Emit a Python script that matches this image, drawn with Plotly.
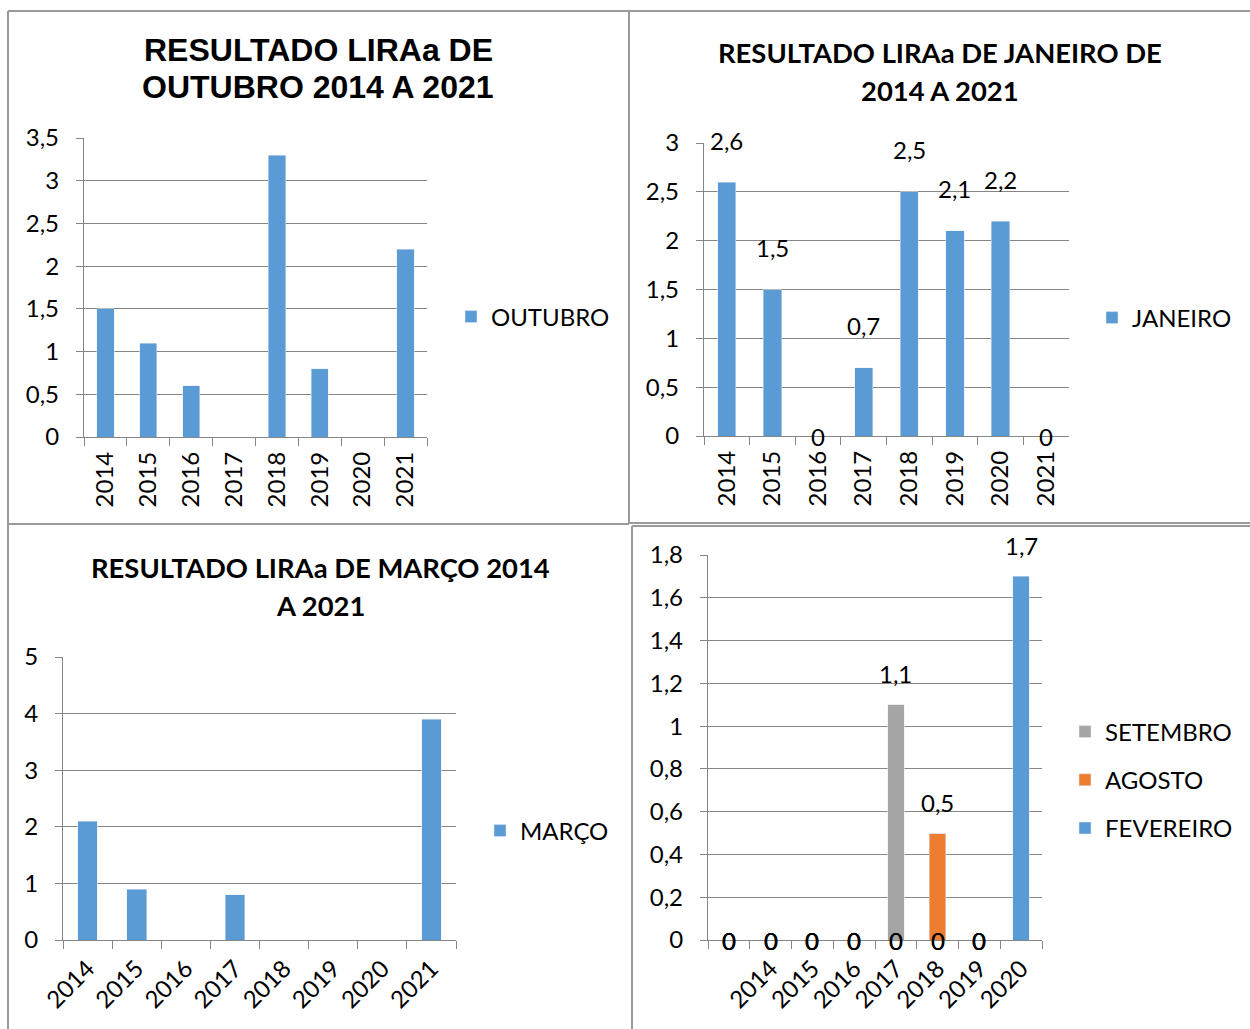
import plotly.graph_objects as go

# ---- data -------------------------------------------------------------
anos = ["2014", "2015", "2016", "2017", "2018", "2019", "2020", "2021"]
outubro = [1.5, 1.1, 0.6, None, 3.3, 0.8, None, 2.2]
janeiro = [2.6, 1.5, 0, 0.7, 2.5, 2.1, 2.2, 0]
marco = [2.1, 0.9, None, 0.8, None, None, None, 3.9]

anos_fev = [" ", "2014", "2015", "2016", "2017", "2018", "2019", "2020"]
setembro = [0, 0, 0, 0, 1.1, 0, 0, None]
agosto = [0, 0, 0, 0, 0, 0.5, 0, None]
fevereiro = [0, 0, 0, 0, 0, 0, 0, 1.7]

# ---- styling ----------------------------------------------------------
W, H = 1250, 1029
AZUL, CINZA, LARANJA = "#5B9BD5", "#A5A5A5", "#ED7D31"
GRADE = "#868686"
BORDA = "#9A9A9A"
FONTE = "Lato"
TICK_FONT = dict(family=FONTE, size=24, color="black")


def px_x(p):
    return p / W


def px_y(p):
    return 1 - p / H


fig = go.Figure()

fig.add_trace(go.Bar(x=anos, y=outubro, name="OUTUBRO", marker_color=AZUL,
                     width=0.4, xaxis="x", yaxis="y", legend="legend"))
fig.add_trace(go.Bar(x=anos, y=janeiro, name="JANEIRO", marker_color=AZUL,
                     width=0.4, xaxis="x2", yaxis="y2", legend="legend2"))
fig.add_trace(go.Bar(x=anos, y=marco, name="MARÇO", marker_color=AZUL,
                     width=0.4, xaxis="x3", yaxis="y3", legend="legend3"))
for nome, serie, cor in [("SETEMBRO", setembro, CINZA),
                         ("AGOSTO", agosto, LARANJA),
                         ("FEVEREIRO", fevereiro, AZUL)]:
    fig.add_trace(go.Bar(x=anos_fev, y=serie, name=nome, marker_color=cor,
                         width=0.4, xaxis="x4", yaxis="y4", legend="legend4",
                         legendgroup=nome))


def eixo_x(dom, ancora, angulo, n):
    return dict(domain=[px_x(dom[0]), px_x(dom[1])], anchor=ancora,
                type="category", range=[-0.5, n - 0.5], fixedrange=True,
                showgrid=False, zeroline=False, showline=True,
                linecolor=GRADE, linewidth=1.3, ticks="outside",
                tickson="boundaries", ticklen=8, tickcolor=GRADE,
                tickwidth=1.3, tickangle=angulo, tickfont=TICK_FONT,
                ticklabelstandoff=4)


def eixo_y(dom, ancora, rng, passo):
    return dict(domain=[px_y(dom[1]), px_y(dom[0])], anchor=ancora,
                range=rng, dtick=passo, tick0=0, fixedrange=True,
                showgrid=True, gridcolor=GRADE, gridwidth=1.3,
                zeroline=False, showline=True, linecolor=GRADE,
                linewidth=1.3, ticks="outside", ticklen=7,
                tickcolor=GRADE, tickwidth=1.3, tickfont=TICK_FONT,
                ticklabelstandoff=12)


fig.update_layout(
    xaxis=eixo_x((84, 427), "y", -90, len(anos)),
    yaxis=eixo_y((138, 437), "x", [0, 3.5], 0.5),
    xaxis2=eixo_x((704, 1069), "y2", -90, len(anos)),
    yaxis2=eixo_y((143, 436), "x2", [0, 3], 0.5),
    xaxis3=eixo_x((63, 456), "y3", -45, len(anos)),
    yaxis3=eixo_y((657, 940), "x3", [0, 5], 1),
    xaxis4=eixo_x((708, 1042), "y4", -45, len(anos_fev)),
    yaxis4=eixo_y((555, 940), "x4", [0, 1.8], 0.2),
)


def legenda(x_texto, y_centro, gap=0):
    return dict(x=px_x(x_texto - 40), y=px_y(y_centro), xanchor="left",
                yanchor="middle", bgcolor="rgba(0,0,0,0)",
                font=dict(family=FONTE, size=24, color="black"),
                tracegroupgap=gap, traceorder="grouped")


fig.update_layout(
    legend=legenda(491, 317),
    legend2=legenda(1132, 318),
    legend3=legenda(520, 831),
    legend4=legenda(1105, 780, gap=14),
)

# ---- titles (one annotation per line) -----------------------------------
ARIAL_B = dict(family="Liberation Sans", size=32, color="black", weight="bold")
LATO_B = dict(family=FONTE, size=27.4, color="black", weight="bold")
titulos = [
    ("RESULTADO LIRAa DE", 318, 50, ARIAL_B),
    ("OUTUBRO 2014 A 2021", 318, 87, ARIAL_B),
    ("RESULTADO LIRAa DE JANEIRO DE", 940, 52, LATO_B),
    ("2014 A 2021", 940, 91, LATO_B),
    ("RESULTADO LIRAa DE MARÇO 2014", 320, 567, LATO_B),
    ("A 2021", 320, 605, LATO_B),
]
anot = []
for texto, cx, cy, fonte in titulos:
    anot.append(dict(text=texto, x=px_x(cx), y=px_y(cy), xref="paper",
                     yref="paper", xanchor="center", yanchor="middle",
                     showarrow=False, font=fonte))


# ---- data labels (x given as category index) ---------------------------
def rotulos(vals, xr, yr, deslocamento):
    for i, v in enumerate(vals):
        if v is None:
            continue
        anot.append(dict(text=f"{v:g}".replace(".", ","), x=i, y=v,
                         xref=xr, yref=yr, showarrow=False,
                         xanchor="center", yanchor="middle",
                         yshift=deslocamento if v > 0 else 0,
                         font=dict(family=FONTE, size=24, color="black")))


rotulos(janeiro, "x2", "y2", 42)
for serie in (setembro, agosto, fevereiro):
    rotulos(serie, "x4", "y4", 31)

fig.update_layout(annotations=anot)

# ---- panel frames -----------------------------------------------------
linhas = [
    (8, 11, 1250, 11), (8, 11, 8, 1029), (629, 11, 629, 524),
    (8, 524, 629, 524), (629, 523, 1250, 523), (632, 526, 1250, 526),
    (632, 526, 632, 1029),
]
fig.update_layout(shapes=[
    dict(type="line", xref="paper", yref="paper", x0=px_x(a), y0=px_y(b),
         x1=px_x(c), y1=px_y(d), line=dict(color=BORDA, width=2))
    for a, b, c, d in linhas
])

fig.update_layout(
    width=W, height=H,
    margin=dict(l=0, r=0, t=0, b=0, autoexpand=False),
    paper_bgcolor="white", plot_bgcolor="white",
    barmode="stack", separators=",.", showlegend=True,
)

fig.write_html("out.html")
